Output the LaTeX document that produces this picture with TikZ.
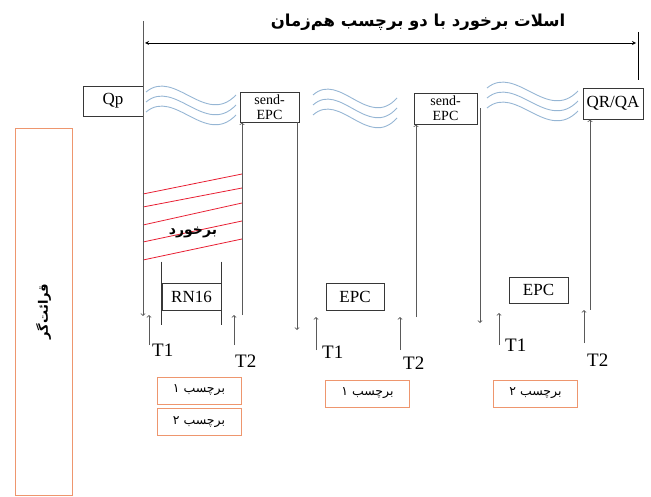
\documentclass[tikz,border=0pt]{standalone}
\usepackage{fontspec}
\setmainfont{Liberation Serif}
\newfontfamily\fafont[Script=Arabic]{DejaVu Sans}
\TeXXeTstate=1
\usepackage{xcolor}
\usetikzlibrary{arrows, positioning}
\definecolor{edge}{RGB}{55,55,55}
\definecolor{wire}{RGB}{90,90,90}
\definecolor{tagedge}{RGB}{238,150,110}
\definecolor{wave}{RGB}{150,182,212}
\definecolor{hit}{RGB}{232,30,50}

\begin{document}
\begin{tikzpicture}[
    x=1pt, y=-1pt,
    node distance=4pt,
    frame/.style={rectangle, draw=edge, line width=0.8pt, inner sep=1pt, font=\fontsize{17}{19}\selectfont},
    sendbox/.style={frame, minimum width=59pt, minimum height=30pt, align=center, inner sep=0pt, font=\fontsize{14}{15}\selectfont},
    tagbox/.style={rectangle, draw=tagedge, line width=0.9pt, minimum width=84pt, minimum height=27pt, font=\fafont\fontsize{12.5}{14}\selectfont},
    tlabel/.style={anchor=base west, inner sep=0pt, font=\fontsize{19}{21}\selectfont},
    arrow/.style={->, >=to, draw=wire, line width=0.8pt},
    ripple/.style={draw=wave, line width=0.9pt},
    hitline/.style={draw=hit, line width=0.8pt}
]
\useasboundingbox (0,0) rectangle (651,497);

\node[font=\fafont\bfseries\fontsize{16.5}{19}\selectfont] (title) at (418,22) {\beginR اسلات برخورد با دو برچسب هم^^^^200cزمان\endR};
\coordinate (slotL) at (143,21);
\coordinate (slotR) at (638,32);
\coordinate (slotRend) at (638,80);
\coordinate (spanL) at (145,43);
\coordinate (spanR) at (636,43);
\draw[<->, >=stealth, line width=0.8pt] (spanL) -- (spanR);
\draw[line width=0.8pt] (slotR) -- (slotRend);

\node[frame, minimum width=60pt, minimum height=30pt] (qp) at (113,101) {Qp};
\node[sendbox] (send1) at (269.5,107) {send-\\EPC};
\node[sendbox, minimum width=63pt, minimum height=31pt] (send2) at (445.5,108.5) {send-\\EPC};
\node[frame, minimum width=60pt, minimum height=31pt] (qrqa) at (613,103.5) {QR/QA};

\foreach \x/\y/\w in {146/92/90, 313/95/84, 487/88/91}
  \foreach \dy in {0,10,20}
    \draw[ripple] (\x,\y+\dy) .. controls (\x+0.32*\w,\y+\dy-24) and (\x+0.66*\w,\y+\dy+35) .. (\x+\w,\y+\dy+3);

\foreach \l/\r in {194/174, 207/188, 225/203, 242/221, 260/239}
  \draw[hitline] (143,\l) -- (242,\r);
\node[font=\fafont\bfseries\fontsize{14}{16}\selectfont] (hit) at (193,233) {\beginR برخورد\endR};

\node[frame, minimum width=59pt, minimum height=27pt] (rn16) at (191.5,296.5) {RN16};
\draw[draw=edge, line width=0.8pt] ([yshift=21pt]rn16.north west) -- ([yshift=-15pt]rn16.south west);
\draw[draw=edge, line width=0.8pt] ([yshift=21pt]rn16.north east) -- ([yshift=-15pt]rn16.south east);
\node[frame, minimum width=58pt, minimum height=27pt] (epc1) at (355,296.5) {EPC};
\node[frame, minimum width=59pt, minimum height=26pt] (epc2) at (538.5,290) {EPC};

\coordinate (qpdown) at (143,316);
\draw[arrow] (slotL) -- (qpdown);
\coordinate (inA) at (242,315);
\draw[arrow] (inA) -- (inA |- send1.south);
\coordinate (outA) at (297,330);
\draw[arrow] (outA |- send1.south) -- (outA);
\coordinate (inB) at (416,317);
\draw[arrow] (inB) -- (inB |- send2.south);
\coordinate (outB) at (480,323);
\draw[arrow] (outB |- send2.east) -- (outB);
\coordinate (inC) at (590,310);
\draw[arrow] (inC) -- (inC |- qrqa.south);

\foreach \n/\x/\yb/\yt in {t1a/149/345/315, t2a/234/345/315, t1b/316/350/317, t2b/400/350/317, t1c/499/345/313, t2c/584/343/310} {
  \coordinate (\n-lo) at (\x,\yb);
  \coordinate (\n-hi) at (\x,\yt);
  \draw[arrow] (\n-lo) -- (\n-hi);
}
\node[tlabel] (lt1a) at (152,356) {T1};
\node[tlabel] (lt2a) at (235,367) {T2};
\node[tlabel] (lt1b) at (322,358) {T1};
\node[tlabel] (lt2b) at (403,369) {T2};
\node[tlabel] (lt1c) at (505,352) {T1};
\node[tlabel] (lt2c) at (587,366) {T2};

\node[draw=tagedge, line width=0.9pt, rotate=90, minimum width=367pt, minimum height=57pt, font=\fafont\bfseries\fontsize{13}{15}\selectfont] (reader) at (43.5,311.5) {\beginR قرائت^^^^200cگر\endR};

\node[tagbox] (tag1a) at (199,390.5) {\beginR برچسب ۱\endR};
\node[tagbox, below=4pt of tag1a] (tag2a) {\beginR برچسب ۲\endR};
\node[tagbox] (tag1b) at (367.5,393.5) {\beginR برچسب ۱\endR};
\node[tagbox] (tag2b) at (535.5,393.5) {\beginR برچسب ۲\endR};

\end{tikzpicture}
\end{document}
